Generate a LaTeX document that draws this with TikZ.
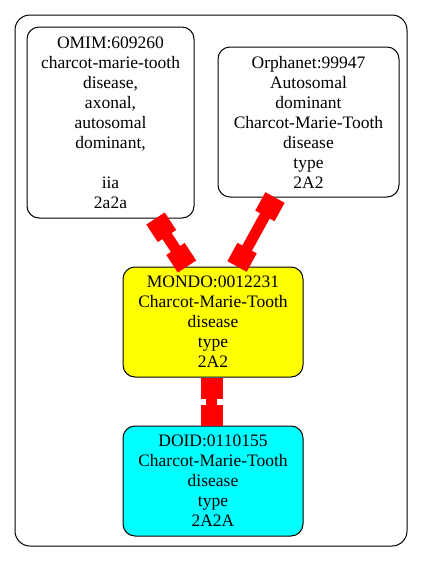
\documentclass[tikz,border=0pt]{standalone}
\usepackage{fontspec}
\setmainfont{Liberation Serif}
\usetikzlibrary{positioning,calc,arrows.meta}

\definecolor{mondofill}{RGB}{255,255,0}
\definecolor{doidfill}{RGB}{0,255,255}
\definecolor{linkred}{RGB}{255,0,0}

\tikzset{
	term/.style={draw, line width=1pt, rounded corners=12pt, align=center, inner sep=2pt,
		font=\fontsize{17.5}{20}\selectfont},
	link/.style={linkred, line width=11pt,
		{Square[length=21pt,width=22pt]}-{Square[length=21pt,width=22pt]}},
}

\begin{document}
\begin{tikzpicture}[x=1pt,y=-1pt]
		\useasboundingbox (0,0) rectangle (424,563);
		\draw[line width=1pt, rounded corners=15pt] (15,15) rectangle (407,546);
		%
		\node[term, minimum width=167pt, minimum height=191pt] (omim) at (110.5,122.5)
			{OMIM:609260\\charcot-marie-tooth\\disease,\\axonal,\\autosomal\\dominant,\\\mbox{}\\iia\\2a2a};
		\node[term, minimum width=181pt, minimum height=150pt] (orpha) at (308.5,122)
			{Orphanet:99947\\Autosomal\\dominant\\Charcot-Marie-Tooth\\disease\\type\\2A2};
		\node[term, fill=mondofill, minimum width=180pt, minimum height=110pt] (mondo) at (213,322)
			{MONDO:0012231\\Charcot-Marie-Tooth\\disease\\type\\2A2};
		\node[term, fill=doidfill, minimum width=180pt, minimum height=110pt, below=48pt of mondo] (doid)
			{DOID:0110155\\Charcot-Marie-Tooth\\disease\\type\\2A2A};
		%
		\draw[link] ($(omim.south)+(45,0)$) -- ($(mondo.north)+(-26,0)$);
		\draw[link] ($(orpha.south)+(-33.5,0)$) -- ($(mondo.north)+(24,0)$);
		\draw[link] ($(mondo.south)+(-1.5,0)$) -- ($(doid.north)+(-1.5,0)$);
	\end{tikzpicture}
\end{document}
